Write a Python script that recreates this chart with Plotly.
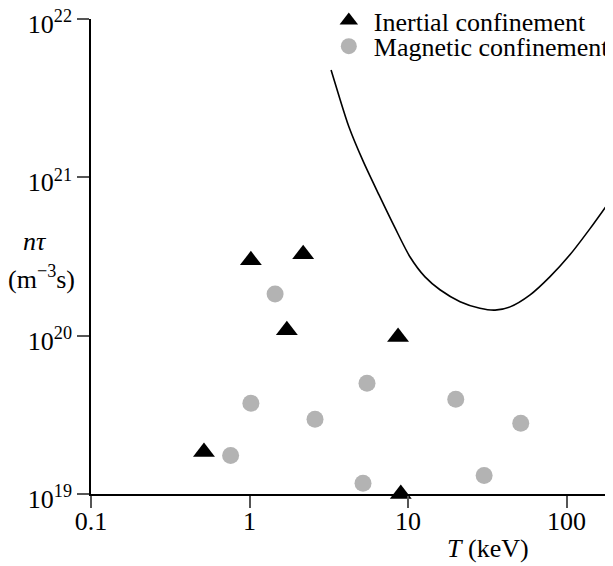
import plotly.graph_objects as go

# Inertial confinement experiments (T in keV, n*tau in m^-3 s)
inertial_T = [1.02, 2.18, 1.72, 8.65, 0.516, 9.0]
inertial_ntau = [2.99e20, 3.27e20, 1.08e20, 9.8e19, 1.84e19, 1.0e19]

# Magnetic confinement experiments
magnetic_T = [1.45, 1.02, 0.76, 2.59, 5.51, 5.2, 20.0, 30.2, 51.4]
magnetic_ntau = [1.83e20, 3.74e19, 1.75e19, 2.97e19, 5.0e19, 1.17e19, 3.96e19, 1.31e19, 2.80e19]

# Ignition (Lawson) curve
curve_T = [3.27, 3.62, 4.24, 5.20, 6.56, 8.28, 10.3, 12.8, 15.9, 21.3, 28.4, 35.4,
           44.0, 58.9, 78.7, 105, 141, 193]
curve_ntau = [4.76e21, 3.41e21, 2.08e21, 1.27e21, 7.74e20, 4.79e20, 3.14e20, 2.35e20,
              1.95e20, 1.64e20, 1.49e20, 1.45e20, 1.52e20, 1.81e20, 2.36e20, 3.24e20,
              4.76e20, 7.38e20]

x_tickvals = [0.1, 1, 10, 100]
x_ticktext = ["0.1", "1", "10", "100"]
y_tickvals = [1e19, 1e20, 1e21, 1e22]
y_ticktext = ["10<sup>19</sup>", "10<sup>20</sup>", "10<sup>21</sup>", "10<sup>22</sup>"]

FONT = "Liberation Serif"
FS = 26

fig = go.Figure()
fig.add_trace(go.Scatter(
    x=curve_T, y=curve_ntau, mode="lines",
    line=dict(color="black", width=1.6, shape="spline", smoothing=0.8),
    showlegend=False, hoverinfo="skip"))
fig.add_trace(go.Scatter(
    x=magnetic_T, y=magnetic_ntau, mode="markers", name="Magnetic confinement",
    marker=dict(symbol="circle", size=17, color="#b3b3b3", line=dict(width=0)),
    cliponaxis=False, legend="legend2"))
fig.add_trace(go.Scatter(
    x=inertial_T, y=inertial_ntau, mode="markers", name="Inertial confinement",
    marker=dict(symbol="triangle-up", size=19, color="black", line=dict(width=0)),
    cliponaxis=False, legend="legend"))

fig.update_layout(
    width=613, height=566,
    margin=dict(l=83, r=8, t=11, b=80, autoexpand=False),
    paper_bgcolor="white", plot_bgcolor="white",
    font=dict(family=FONT, size=FS, color="black"),
    legend=dict(x=0.446, y=1.046, xanchor="left", yanchor="top", itemwidth=40,
                bgcolor="rgba(0,0,0,0)", borderwidth=0,
                font=dict(family=FONT, size=FS, color="black")),
    legend2=dict(x=0.446, y=0.992, xanchor="left", yanchor="top", itemwidth=40,
                 bgcolor="rgba(0,0,0,0)", borderwidth=0,
                 font=dict(family=FONT, size=FS, color="black")),
    xaxis=dict(type="log", range=[-1, 2.293], showgrid=False, zeroline=False,
               showline=True, linecolor="black", linewidth=1.5,
               ticks="outside", ticklen=12, tickwidth=1.5, tickcolor="#555",
               ticklabelstandoff=-9, ticklabeloverflow="allow",
               tickvals=x_tickvals, ticktext=x_ticktext,
               tickfont=dict(family=FONT, size=FS, color="black")),
    yaxis=dict(type="log", range=[19, 22], showgrid=False, zeroline=False,
               showline=True, linecolor="black", linewidth=1.5,
               ticks="outside", ticklen=12, tickwidth=1.5, tickcolor="#555",
               ticklabeloverflow="allow", ticklabelshift=5,
               tickvals=y_tickvals, ticktext=y_ticktext,
               tickfont=dict(family=FONT, size=FS, color="black")),
    annotations=[
        dict(text="<i>T</i> (keV)", xref="paper", yref="paper", x=0.7605, y=-0.1137,
             xanchor="center", yanchor="middle", showarrow=False,
             font=dict(family=FONT, size=FS, color="black")),
        dict(text="<i>nτ</i>", xref="paper", yref="paper", x=-0.107, y=0.532,
             xanchor="center", yanchor="middle", showarrow=False,
             font=dict(family=FONT, size=FS, color="black")),
        dict(text="(m<sup>−3</sup>s)", xref="paper", yref="paper", x=-0.095, y=0.456,
             xanchor="center", yanchor="middle", showarrow=False,
             font=dict(family=FONT, size=FS, color="black")),
    ],
)

fig.write_html("out.html")
